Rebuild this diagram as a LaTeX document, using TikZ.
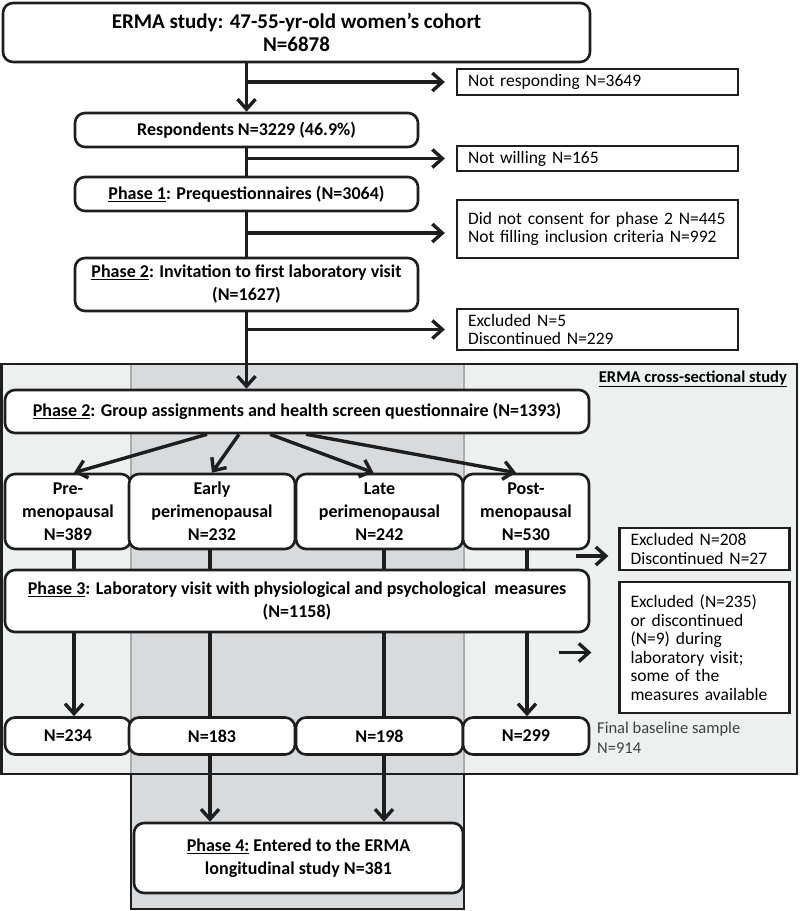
\documentclass[tikz,border=0pt]{standalone}
\usepackage{fontspec}
\setmainfont{Carlito}
\usetikzlibrary{arrows.meta}
\definecolor{panel}{HTML}{EEEFEF}
\definecolor{band}{HTML}{D9DADB}
\definecolor{ink}{HTML}{1E1E1E}

\begin{document}
\begin{tikzpicture}[x=1pt,y=1pt]
\tikzstyle{every node}+=[inner sep=0pt]
\tikzstyle{stage}=[draw=ink, line width=2.6pt, rounded corners=10pt, fill=white, align=center, font=\fontsize{18}{23}\selectfont\bfseries]
\tikzstyle{side}=[draw=ink, line width=2.3pt, fill=white, align=left, inner xsep=11pt, font=\fontsize{17.5}{18.5}\selectfont]
\tikzstyle{link}=[ink, line width=3.4pt]
\tikzstyle{flow}=[link, -{Straight Barb[length=10pt,width=18pt]}]
\useasboundingbox (0,0) rectangle (800,-911);

% shaded study areas
\fill[panel] (1.5,-364) rectangle (797,-774);
\fill[band] (131,-364) rectangle (464,-909);
\draw[gray!65, line width=1.5pt] (131,-364) -- (131,-774) (464,-364) -- (464,-774);
\draw[ink, line width=2.2pt] (131,-774) -- (131,-909) -- (464,-909) -- (464,-774);
\draw[ink, line width=2.6pt] (1.5,-364) rectangle (797,-774);
\node[anchor=east, font=\fontsize{16.5}{18}\selectfont\bfseries] (cross) at (787,-379) {\underline{ERMA cross-sectional study}};

% recruitment
\node[stage, minimum width=587, minimum height=59, font=\fontsize{21}{23}\selectfont\bfseries] (cohort) at (296.5,-32.5) {ERMA study: 47-55-yr-old women’s cohort\\N=6878};
\node[stage, minimum width=343, minimum height=34] (resp) at (246.5,-130) {Respondents N=3229 (46.9\%)};
\node[stage, minimum width=343, minimum height=34] (phase1) at (246.5,-194) {\underline{Phase 1}: Prequestionnaires (N=3064)};
\node[stage, minimum width=343, minimum height=53] (invite) at (246.5,-284.5) {\underline{Phase 2}: Invitation to first laboratory visit\\(N=1627)};

\node[side, minimum width=281, minimum height=26, text width=259] (noresp) at (597.5,-82) {Not responding N=3649};
\node[side, minimum width=281, minimum height=25, text width=259] (nowill) at (597.5,-158.5) {Not willing N=165};
\node[side, minimum width=281, minimum height=58, text width=259] (noconsent) at (597.5,-229) {Did not consent for phase 2 N=445\\Not filling inclusion criteria N=992};
\node[side, minimum width=281, minimum height=41, text width=259] (drop1) at (597.5,-329.5) {Excluded N=5\\Discontinued N=229};

% cross-sectional study
\node[stage, minimum width=584, minimum height=43] (groups) at (297,-411.5) {\underline{Phase 2}: Group assignments and health screen questionnaire (N=1393)};
\node[stage, minimum width=126, minimum height=75] (pre) at (68,-511.5) {Pre-\\menopausal\\N=389};
\node[stage, minimum width=166, minimum height=75] (early) at (212,-511.5) {Early\\perimenopausal\\N=232};
\node[stage, minimum width=167, minimum height=75] (late) at (379.5,-511.5) {Late\\perimenopausal\\N=242};
\node[stage, minimum width=126, minimum height=75] (post) at (526,-511.5) {Post-\\menopausal\\N=530};
\node[stage, minimum width=584, minimum height=62] (phase3) at (297,-601) {\underline{Phase 3}: Laboratory visit with physiological and psychological\ \ measures\\(N=1158)};
\node[side, minimum width=170, minimum height=42, text width=148] (drop2) at (704.5,-549) {Excluded N=208\\Discontinued N=27};
\node[side, minimum width=170, minimum height=131, text width=148] (drop3) at (704.5,-647.5) {Excluded (N=235)\\or discontinued\\(N=9) during\\laboratory visit;\\some of the\\measures available};

\node[stage, minimum width=126, minimum height=37] (n1) at (68,-736) {N=234};
\node[stage, minimum width=166, minimum height=37] (n2) at (212,-736) {N=183};
\node[stage, minimum width=167, minimum height=37] (n3) at (379.5,-736) {N=198};
\node[stage, minimum width=126, minimum height=37] (n4) at (526,-736) {N=299};
\node[anchor=west, align=left, text=ink!85, font=\fontsize{16.5}{20}\selectfont] (final) at (597,-738) {Final baseline sample\\N=914};

\node[stage, minimum width=329, minimum height=70] (phase4) at (298.5,-858) {\underline{Phase 4:} Entered to the ERMA\\longitudinal study N=381};

% columns
\coordinate (c1) at (74,0);
\coordinate (c2) at (210,0);
\coordinate (c3) at (384,0);
\coordinate (c4) at (527,0);

% connectors
\draw[flow] (cohort.south -| resp.north) -- (resp.north);
\draw[flow, shorten >=11pt] (resp.north |- noresp.west) -- (noresp.west);
\draw[link] (resp.south) -- (phase1.north);
\draw[flow, shorten >=11pt] (resp.south |- nowill.west) -- (nowill.west);
\draw[link] (phase1.south) -- (invite.north);
\draw[flow, shorten >=11pt] (phase1.south |- noconsent.west) ++(0,-4) -- ([yshift=-4]noconsent.west);
\draw[flow] (invite.south) -- (invite.south |- groups.north);
\draw[flow, shorten >=11pt] (invite.south |- drop1.west) -- (drop1.west);

\draw[flow] ([xshift=-90]groups.south) -- ([xshift=6]pre.north);
\draw[flow] ([xshift=-58]groups.south) -- (early.north);
\draw[flow] ([xshift=-27]groups.south) -- ([xshift=-6]late.north);
\draw[flow] ([xshift=9]groups.south) -- ([xshift=-10]post.north);

\draw[link] (pre.south -| c1) -- (phase3.north -| c1);
\draw[link] (early.south -| c2) -- (phase3.north -| c2);
\draw[link] (late.south -| c3) -- (phase3.north -| c3);
\draw[link] (post.south -| c4) -- (phase3.north -| c4);
\draw[flow] ([xshift=-42,yshift=-7]drop2.west) -- ([xshift=-10,yshift=-7]drop2.west);
\draw[flow] ([xshift=-59,yshift=-5]drop3.west) -- ([xshift=-27,yshift=-5]drop3.west);

\draw[flow] (phase3.south -| c1) -- (n1.north -| c1);
\draw[link] (phase3.south -| c2) -- (n2.north -| c2);
\draw[link] (phase3.south -| c3) -- (n3.north -| c3);
\draw[flow] (phase3.south -| c4) -- (n4.north -| c4);
\draw[flow] (n2.south -| c2) -- (phase4.north -| c2);
\draw[flow] (n3.south -| c3) -- (phase4.north -| c3);
\end{tikzpicture}
\end{document}
